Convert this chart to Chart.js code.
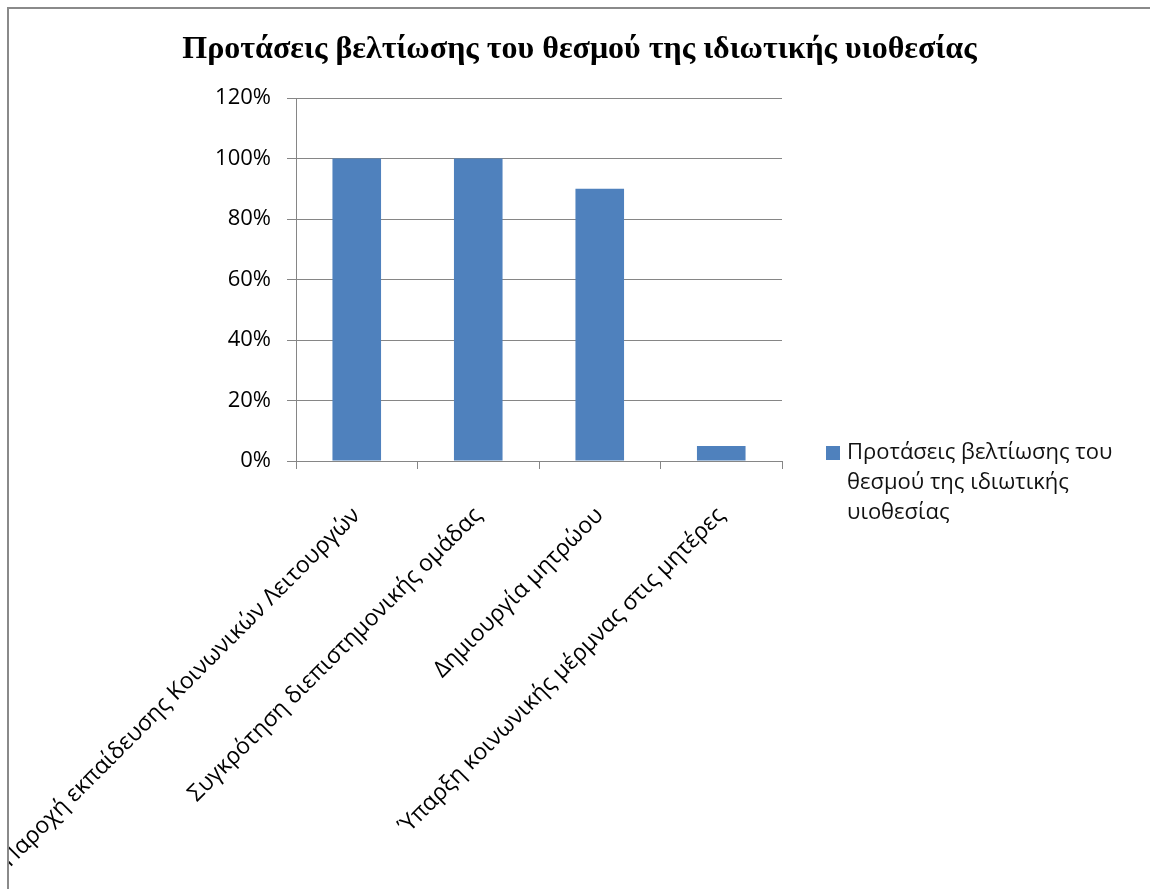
<!DOCTYPE html>
<html lang="el">
<head>
<meta charset="utf-8">
<title>Προτάσεις βελτίωσης του θεσμού της ιδιωτικής υιοθεσίας</title>
<script src="https://cdn.jsdelivr.net/npm/chart.js@4.4.1/dist/chart.umd.min.js"></script>
<style>
  html, body { margin: 0; padding: 0; background: #fff; }
  #frame {
    position: absolute; left: 7px; top: 7px;
    border-top: 2px solid #8a8a8a; border-left: 2px solid #8a8a8a;
  }
  canvas { display: block; }
</style>
</head>
<body>
<div id="frame"><canvas id="myChart" width="1141" height="880"></canvas></div>
<script>
// chart data
const chartTitle = 'Προτάσεις βελτίωσης του θεσμού της ιδιωτικής υιοθεσίας';
const seriesName = 'Προτάσεις βελτίωσης του θεσμού της ιδιωτικής υιοθεσίας';
const categories = [
    'Παροχή εκπαίδευσης Κοινωνικών Λειτουργών',
    'Συγκρότηση διεπιστημονικής ομάδας',
    'Δημιουργία μητρώου',
    'Ύπαρξη κοινωνικής μέρμνας στις μητέρες'
];
const percentages = [100, 100, 90, 5];
const yTickValues = [0, 20, 40, 60, 80, 100, 120];

const barColor = '#4F81BD';
const gridColor = '#868686';
const labelFont = '"Open Sans", "Noto Sans", sans-serif';

// split legend text into lines that fit a width
function wrapText(ctx, text, maxWidth) {
    const words = text.split(' ');
    const lines = [];
    let line = '';
    words.forEach(w => {
        const test = line ? line + ' ' + w : w;
        if (line && ctx.measureText(test).width > maxWidth) {
            lines.push(line);
            line = w;
        } else {
            line = test;
        }
    });
    if (line) lines.push(line);
    return lines;
}

// legend drawn to the right of the plot, with wrapped text
const sideLegend = {
    id: 'sideLegend',
    afterDraw(chart) {
        const ctx = chart.ctx;
        const area = chart.chartArea;
        const ds = chart.data.datasets[0];
        ctx.save();
        ctx.font = '22px ' + labelFont;
        ctx.textBaseline = 'middle';
        ctx.textAlign = 'left';
        const lines = wrapText(ctx, ds.label, 300);
        const boxX = area.right + 44;
        const textX = area.right + 65;
        const y0 = area.bottom - 8;
        ctx.fillStyle = ds.backgroundColor;
        ctx.fillRect(boxX, y0 - 7, 14, 14);
        ctx.fillStyle = '#111';
        lines.forEach((l, i) => ctx.fillText(l, textX, y0 + i * 30));
        ctx.restore();
    }
};

const ctx = document.getElementById('myChart').getContext('2d');
window.myChart = new Chart(ctx, {
    type: 'bar',
    data: {
        labels: categories,
        datasets: [{
            label: seriesName,
            data: percentages,
            backgroundColor: barColor,
            borderWidth: 0,
            categoryPercentage: 1,
            barPercentage: 0.4
        }]
    },
    options: {
        responsive: false,
        animation: false,
        layout: { padding: 0 },
        plugins: {
            legend: { display: false },
            tooltip: { enabled: false },
            title: {
                display: true,
                text: chartTitle,
                color: '#000',
                font: { family: '"Liberation Serif", "Times New Roman", serif', size: 32, weight: 'bold', lineHeight: 1.2 },
                padding: { top: 22, bottom: 28.6 }
            }
        },
        scales: {
            x: {
                grid: {
                    display: true,
                    drawOnChartArea: false,
                    offset: true,
                    color: gridColor,
                    tickLength: 8
                },
                border: { color: gridColor, width: 1 },
                ticks: {
                    autoSkip: false,
                    minRotation: 45,
                    maxRotation: 45,
                    padding: 33,
                    color: '#000',
                    font: { family: labelFont, size: 23 }
                },
                afterFit(scale) {
                    // fixed axis height; the first label may run off the left edge,
                    // and the right side is kept free for the legend
                    scale.height = 428;
                    scale.paddingLeft = 0;
                    scale.paddingRight = 368;
                }
            },
            y: {
                min: 0,
                max: 120,
                afterBuildTicks(scale) {
                    scale.ticks = yTickValues.map(v => ({ value: v }));
                },
                grid: {
                    color: gridColor,
                    tickLength: 9
                },
                border: { color: gridColor, width: 1 },
                ticks: {
                    padding: 16,
                    color: '#000',
                    font: { family: labelFont, size: 22 },
                    callback: v => v + '%'
                },
                afterFit(scale) {
                    scale.width = 287;
                }
            }
        }
    },
    plugins: [sideLegend]
});
</script>
</body>
</html>
